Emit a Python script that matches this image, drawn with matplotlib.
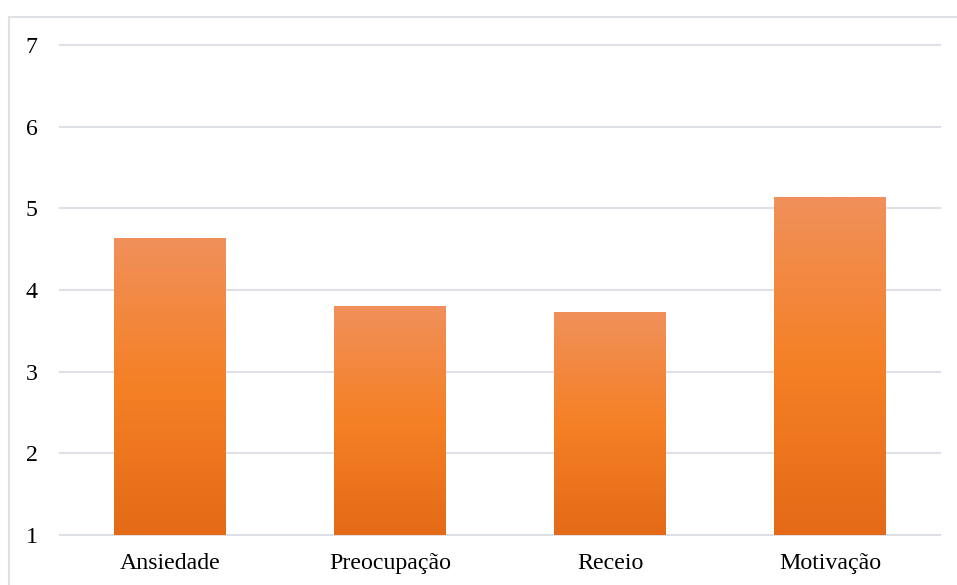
import matplotlib

matplotlib.use("Agg")

import matplotlib.pyplot as plt  # noqa: E402
import numpy as np  # noqa: E402
from matplotlib.colors import LinearSegmentedColormap  # noqa: E402
from matplotlib.patches import Rectangle  # noqa: E402

categories = ["Ansiedade", "Preocupação", "Receio", "Motivação"]
values = [4.63, 3.80, 3.72, 5.13]
y_ticks = [1, 2, 3, 4, 5, 6, 7]

plt.rcParams["font.family"] = ["Liberation Serif", "DejaVu Serif"]

W, H = 957, 585
fig = plt.figure(figsize=(W / 100, H / 100), dpi=100)
ax = fig.add_axes([60 / W, 1 - 535 / H, 880 / W, 490 / H])

# light frame around the chart, running off the right/bottom edge
fig.patches.append(
    Rectangle((9 / W, -0.1), 1.2, 1 - 17 / H + 0.1, transform=fig.transFigure,
              fill=False, edgecolor="#DDE1E7", linewidth=1.5)
)

x = np.arange(len(categories))
bars = ax.bar(x, values, width=0.505, color="none", zorder=2)

# vertical gradient: dark orange bottom -> bright middle -> pale top
cmap = LinearSegmentedColormap.from_list(
    "bar", [(0.0, "#E46A17"), (0.5, "#F58025"), (1.0, "#F0905A")]
)
grad = np.linspace(0, 1, 256).reshape(-1, 1)
ymin = y_ticks[0]
for bar in bars:
    bx, bw, top = bar.get_x(), bar.get_width(), bar.get_height()
    ax.imshow(grad, extent=[bx, bx + bw, ymin, top], origin="lower",
              aspect="auto", cmap=cmap, zorder=2)

ax.set_xlim(-0.5, len(categories) - 0.5)
ax.set_ylim(y_ticks[0], y_ticks[-1])
ax.set_yticks(y_ticks)
ax.set_xticks(x)
ax.set_xticklabels(categories)
ax.yaxis.grid(True, color="#DDE1E7", linewidth=1.5, zorder=0)
for line in ax.get_ygridlines():
    line.set_clip_on(False)
ax.set_axisbelow(True)
for side in ax.spines.values():
    side.set_visible(False)
ax.tick_params(axis="both", length=0, labelsize=17.2, colors="#000000")
ax.tick_params(axis="y", pad=16)
ax.tick_params(axis="x", pad=13)

fig.savefig("out.png", dpi=100)
